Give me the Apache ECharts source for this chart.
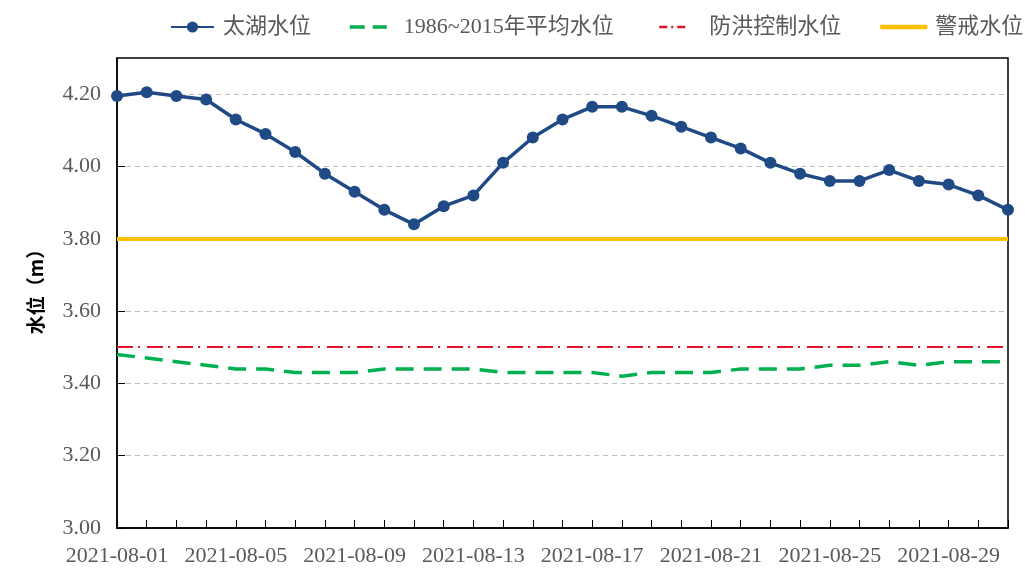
<!DOCTYPE html>
<html>
<head>
<meta charset="utf-8">
<script src="https://cdn.jsdelivr.net/npm/echarts@6/dist/echarts.min.js"></script>
<style>html,body{margin:0;padding:0;background:#fff}#c{width:1025px;height:568px}</style>
</head>
<body>
<div id="c"></div>
<script>
const dates = ['2021-08-01','2021-08-02','2021-08-03','2021-08-04','2021-08-05','2021-08-06','2021-08-07','2021-08-08','2021-08-09','2021-08-10','2021-08-11','2021-08-12','2021-08-13','2021-08-14','2021-08-15','2021-08-16','2021-08-17','2021-08-18','2021-08-19','2021-08-20','2021-08-21','2021-08-22','2021-08-23','2021-08-24','2021-08-25','2021-08-26','2021-08-27','2021-08-28','2021-08-29','2021-08-30','2021-08-31'];
const taihuLevel = [4.195,4.205,4.195,4.185,4.13,4.09,4.04,3.98,3.93,3.88,3.84,3.89,3.92,4.01,4.08,4.13,4.165,4.165,4.14,4.11,4.08,4.05,4.01,3.98,3.96,3.96,3.99,3.96,3.95,3.92,3.88];
const avgLevel = [3.48,3.47,3.46,3.45,3.44,3.44,3.43,3.43,3.43,3.44,3.44,3.44,3.44,3.43,3.43,3.43,3.43,3.42,3.43,3.43,3.43,3.44,3.44,3.44,3.45,3.45,3.46,3.45,3.46,3.46,3.46];
const floodControlLevel = 3.50;
const warningLevel = 3.80;
const seriesNames = ['太湖水位','1986~2015年平均水位','防洪控制水位','警戒水位'];

const FONT = '"Liberation Serif", "Noto Sans CJK SC", serif';
const NAVY = '#1F4A85', GREEN = '#00B050', RED = '#E8112D', GOLD = '#FFC000';
const RED_DASH = [16, 5, 2, 7];
const chart = echarts.init(document.getElementById('c'));

function mkLegend(name, left, width, pad, extra) {
  return {
    top: 16, left: left, padding: 0, itemWidth: width, itemHeight: 14,
    textStyle: {fontFamily: FONT, fontSize: 22, color: '#595959', padding: [0, 0, 0, pad]},
    data: [Object.assign({name: name}, extra || {})]
  };
}

const option = {
  animation: false,
  backgroundColor: '#fff',
  legend: [
    mkLegend(seriesNames[0], 170, 43, 4),
    mkLegend(seriesNames[1], 348, 37, 12, {itemStyle: {opacity: 0}, lineStyle: {type: [15, 8], width: 3.5, color: GREEN}}),
    mkLegend(seriesNames[2], 658, 29, 16, {itemStyle: {opacity: 0}, lineStyle: {type: [8, 4, 2, 4], width: 2.5, color: RED}}),
    mkLegend(seriesNames[3], 878, 47, 3, {itemStyle: {opacity: 0}, lineStyle: {type: 'solid', width: 4.5, color: GOLD}})
  ],
  grid: {left: 117, right: 17, top: 58, bottom: 40, show: true, borderColor: '#000', borderWidth: 1.5, backgroundColor: '#fff'},
  xAxis: {
    type: 'category', data: dates, boundaryGap: false,
    axisLine: {lineStyle: {color: '#000', width: 1.5}},
    axisTick: {inside: true, length: 8, interval: 0, lineStyle: {color: '#000', width: 1}},
    axisLabel: {interval: 3, fontFamily: FONT, fontSize: 22, color: '#595959', margin: 17}
  },
  yAxis: {
    type: 'value', min: 3.0, max: 4.3, interval: 0.2,
    name: '水位（m）', nameLocation: 'middle', nameGap: 72,
    nameTextStyle: {fontFamily: '"Noto Sans CJK SC", sans-serif', fontSize: 19, fontWeight: 'bold', color: '#000', padding: [0, 0, 0, 12]},
    axisLine: {show: true, lineStyle: {color: '#000', width: 1.5}},
    axisTick: {show: true, inside: true, length: 8, lineStyle: {color: '#000', width: 1}},
    axisLabel: {showMaxLabel: false, fontFamily: FONT, fontSize: 22, color: '#595959', margin: 16, formatter: v => v.toFixed(2)},
    splitLine: {show: true, showMinLine: false, showMaxLine: false, lineStyle: {color: '#BFBFBF', type: [5, 4], width: 1}}
  },
  series: [
    {
      name: seriesNames[0], type: 'line', data: taihuLevel, z: 5,
      symbol: 'circle', symbolSize: 12, showSymbol: true,
      itemStyle: {color: NAVY},
      lineStyle: {color: NAVY, width: 3.5}
    },
    {
      name: seriesNames[1], type: 'line', data: avgLevel, z: 4,
      symbol: 'none',
      itemStyle: {color: GREEN},
      lineStyle: {color: GREEN, width: 3.5, type: [18, 10]}
    },
    {
      name: seriesNames[2], type: 'line', data: [], symbol: 'none',
      itemStyle: {color: RED},
      lineStyle: {color: RED, width: 2, type: RED_DASH},
      markLine: {silent: true, symbol: 'none', label: {show: false},
        lineStyle: {color: RED, width: 2, type: RED_DASH},
        data: [{yAxis: floodControlLevel}]}
    },
    {
      name: seriesNames[3], type: 'line', data: [], symbol: 'none',
      itemStyle: {color: GOLD},
      lineStyle: {color: GOLD, width: 4},
      markLine: {silent: true, symbol: 'none', label: {show: false},
        lineStyle: {color: GOLD, width: 4, type: 'solid'},
        data: [{yAxis: warningLevel}]}
    }
  ]
};
chart.setOption(option);
</script>
</body>
</html>
